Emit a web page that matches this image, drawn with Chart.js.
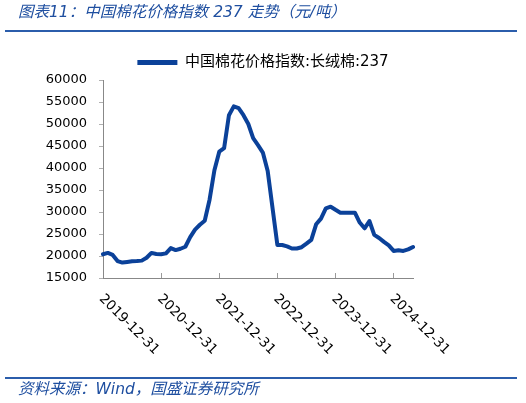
<!DOCTYPE html>
<html>
<head>
<meta charset="utf-8">
<script src="https://cdn.jsdelivr.net/npm/chart.js@4.4.1/dist/chart.umd.min.js"></script>
<style>
  html, body { margin: 0; padding: 0; background: #fff; }
  #wrap { position: relative; width: 526px; height: 403px; overflow: hidden; }
  #chart { position: absolute; left: 0; top: 0; }
  .caption { position: absolute; left: 18px; font: italic 15.5px "DejaVu Sans", "Noto Sans CJK SC", sans-serif; color: #1f4fa0; white-space: nowrap; line-height: 1; }
  #title { top: 5px; }
  #source { top: 382px; }
  .rule { position: absolute; left: 5px; width: 512px; height: 2px; background: #2b5dab; }
</style>
</head>
<body>
<div id="wrap">
  <canvas id="chart" width="526" height="403"></canvas>
  <div id="title" class="caption">图表11：中国棉花价格指数 237 走势（元/吨）</div>
  <div class="rule" style="top:30px"></div>
  <div class="rule" style="top:377px"></div>
  <div id="source" class="caption">资料来源：Wind，国盛证券研究所</div>
</div>
<script>
// month-end dates, 2019-12 .. 2025-04
const dates = [
  '2019-12-31',
  '2020-01-31', '2020-02-29', '2020-03-31', '2020-04-30', '2020-05-31', '2020-06-30',
  '2020-07-31', '2020-08-31', '2020-09-30', '2020-10-31', '2020-11-30', '2020-12-31',
  '2021-01-31', '2021-02-28', '2021-03-31', '2021-04-30', '2021-05-31', '2021-06-30',
  '2021-07-31', '2021-08-31', '2021-09-30', '2021-10-31', '2021-11-30', '2021-12-31',
  '2022-01-31', '2022-02-28', '2022-03-31', '2022-04-30', '2022-05-31', '2022-06-30',
  '2022-07-31', '2022-08-31', '2022-09-30', '2022-10-31', '2022-11-30', '2022-12-31',
  '2023-01-31', '2023-02-28', '2023-03-31', '2023-04-30', '2023-05-31', '2023-06-30',
  '2023-07-31', '2023-08-31', '2023-09-30', '2023-10-31', '2023-11-30', '2023-12-31',
  '2024-01-31', '2024-02-29', '2024-03-31', '2024-04-30', '2024-05-31', '2024-06-30',
  '2024-07-31', '2024-08-31', '2024-09-30', '2024-10-31', '2024-11-30', '2024-12-31',
  '2025-01-31', '2025-02-28', '2025-03-31', '2025-04-30'
];

// 中国棉花价格指数:长绒棉:237 (元/吨)
const cottonIndex = [
  20400,
  20700, 20250, 18850, 18500, 18650, 18800, 18850, 18950, 19600, 20700, 20450, 20400,
  20600, 21800, 21350, 21650, 22100, 24300, 26000, 27100, 28000, 32800, 39500, 43700,
  44500, 52000, 54000, 53600, 52000, 50000, 46800, 45200, 43500, 39300, 30900, 22500,
  22500, 22200, 21700, 21700, 22000, 22800, 23650, 27200, 28500, 30800, 31200, 30500,
  29850, 29850, 29850, 29850, 27600, 26300, 27950, 24800, 24100, 23200, 22400, 21150,
  21300, 21150, 21500, 22050
];

const seriesName = '中国棉花价格指数:长绒棉:237';
const yTicks = [15000, 20000, 25000, 30000, 35000, 40000, 45000, 50000, 55000, 60000];
const xTickLabels = ['2019-12-31', '2020-12-31', '2021-12-31', '2022-12-31', '2023-12-31', '2024-12-31'];

const lineColor = '#0b4199';
const axisFont = { family: '"DejaVu Sans", sans-serif', size: 13 };

// x labels run down to the right from each tick, drawn after the chart
const slantedLabels = {
  id: 'slantedLabels',
  afterDraw(chart) {
    const xs = chart.scales.x;
    const c = chart.ctx;
    c.save();
    c.font = `13.5px ${axisFont.family}`;
    c.fillStyle = '#000';
    c.textAlign = 'left';
    c.textBaseline = 'top';
    dates.forEach((d, i) => {
      if (!xTickLabels.includes(d)) return;
      const px = xs.getPixelForTick(i);
      c.save();
      c.translate(px + 3, xs.top + 14);
      c.rotate(Math.PI / 4);
      c.fillText(d, 0, 0);
      c.restore();
    });
    c.restore();
  }
};

const ctx = document.getElementById('chart').getContext('2d');
new Chart(ctx, {
  type: 'line',
  data: {
    labels: dates,
    datasets: [{
      label: seriesName,
      data: cottonIndex,
      borderColor: lineColor,
      backgroundColor: lineColor,
      borderWidth: 4,
      pointRadius: 0,
      tension: 0,
      borderJoinStyle: 'round',
      borderCapStyle: 'round',
    }],
  },
  options: {
    responsive: false,
    animation: false,
    layout: { padding: { top: 44, right: 0, bottom: 125, left: 0 } },
    plugins: {
      tooltip: { enabled: false },
      legend: {
        position: 'top',
        labels: {
          color: '#000',
          font: { family: '"DejaVu Sans", "Noto Sans CJK SC", sans-serif', size: 15 },
          boxWidth: 40,
          boxHeight: 5,
          padding: 11,
          generateLabels: chart => Chart.defaults.plugins.legend.labels.generateLabels(chart)
            .map(l => ({ ...l, lineWidth: 0, fillStyle: lineColor })),
        },
      },
    },
    scales: {
      x: {
        ticks: { display: false },
        grid: {
          drawOnChartArea: false,
          drawTicks: true,
          tickLength: -5,
          color: c => (c.tick && xTickLabels.includes(c.tick.label) ? '#9a9a9a' : 'rgba(0,0,0,0)'),
        },
        border: { display: true, color: '#888', width: 1 },
        afterFit: s => { s.height = 0; },
      },
      y: {
        min: 15000,
        max: 60000,
        afterBuildTicks: s => { s.ticks = yTicks.map(v => ({ value: v })); },
        ticks: { color: '#000', font: axisFont, padding: 12, callback: v => String(v) },
        grid: { drawOnChartArea: false, drawTicks: true, tickLength: 4, color: '#b0b0b0' },
        border: { display: true, color: '#888', width: 1 },
        afterFit: s => { s.width = 103; },
      },
      // empty right-hand margin so the legend centres on the whole canvas
      yRight: {
        position: 'right',
        min: 0,
        max: 1,
        ticks: { display: false },
        grid: { display: false },
        border: { display: false },
        afterFit: s => { s.width = 113; },
      },
    },
  },
  plugins: [slantedLabels],
});
</script>
</body>
</html>
